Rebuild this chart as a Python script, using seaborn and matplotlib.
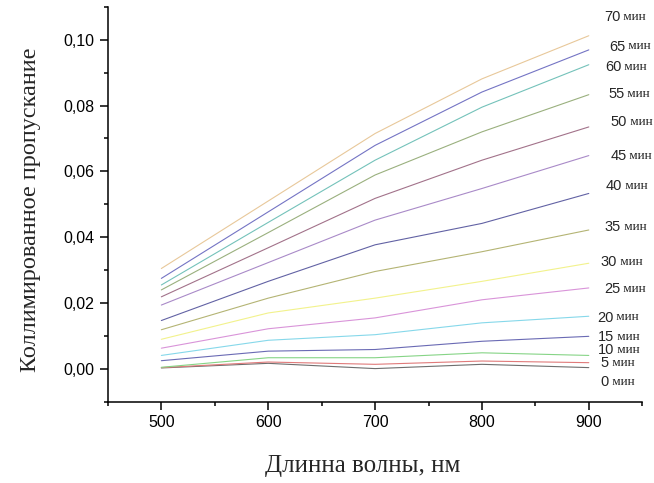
import matplotlib
matplotlib.use("Agg")
import matplotlib.pyplot as plt
import seaborn as sns
import pandas as pd
from matplotlib.ticker import MultipleLocator, FuncFormatter

# wavelength grid, nm
wavelengths = [500, 600, 700, 800, 900]

# exposure times, min
times = [0, 5, 10, 15, 20, 25, 30, 35, 40, 45, 50, 55, 60, 65, 70]

# collimated transmission per exposure time
transmission = [
    [0.0003, 0.0017, 0.0001, 0.0014, 0.0004],   # 0 min
    [0.0004, 0.0021, 0.0014, 0.0024, 0.0019],   # 5 min
    [0.0005, 0.0034, 0.0034, 0.0049, 0.0041],   # 10 min
    [0.0025, 0.0054, 0.0059, 0.0084, 0.0099],   # 15 min
    [0.0041, 0.0087, 0.0104, 0.0140, 0.0160],   # 20 min
    [0.0063, 0.0122, 0.0155, 0.0210, 0.0246],   # 25 min
    [0.0090, 0.0170, 0.0215, 0.0266, 0.0321],   # 30 min
    [0.0119, 0.0215, 0.0296, 0.0356, 0.0422],   # 35 min
    [0.0147, 0.0266, 0.0377, 0.0442, 0.0533],   # 40 min
    [0.0194, 0.0323, 0.0452, 0.0548, 0.0648],   # 45 min
    [0.0219, 0.0368, 0.0518, 0.0634, 0.0735],   # 50 min
    [0.0240, 0.0414, 0.0589, 0.0720, 0.0833],   # 55 min
    [0.0255, 0.0445, 0.0634, 0.0795, 0.0924],   # 60 min
    [0.0275, 0.0477, 0.0679, 0.0841, 0.0969],   # 65 min
    [0.0305, 0.0510, 0.0715, 0.0881, 0.1012],   # 70 min
]

# where each "NN мин" label sits (data coords)
label_x = [911, 911, 908.5, 908.5, 907.5, 914, 911, 915, 916, 920, 920, 918, 915, 919, 914]
label_y = [-0.0041, 0.0017, 0.0056, 0.0098, 0.0156, 0.0243, 0.0325, 0.0431,
           0.0555, 0.0646, 0.0749, 0.0834, 0.0918, 0.0979, 0.1070]

line_colors = ['#6e6e6e', '#e07a7a', '#86d486', '#6a6ab4', '#86d8ea',
               '#d994d9', '#f2f28c', '#b4b474', '#6262a4', '#a98ac8',
               '#a2728a', '#9ab07e', '#74c2ba', '#7474c4', '#e8c89a']

rows = []
for t, vals in zip(times, transmission):
    for wl, v in zip(wavelengths, vals):
        rows.append({'wl': wl, 'T': v, 'time': f'{t} мин'})
df = pd.DataFrame(rows)

sns.set_style("ticks")
plt.rcParams['font.family'] = ['Liberation Sans', 'DejaVu Sans']

fig = plt.figure(figsize=(6.54, 4.83), dpi=100)
ax = fig.add_axes([0.165, 0.168, 0.817, 0.818])

sns.lineplot(data=df, x='wl', y='T', hue='time',
             palette=dict(zip([f'{t} мин' for t in times], line_colors)),
             linewidth=0.8, legend=False, ax=ax)

for t, lx, ly in zip(times, label_x, label_y):
    num = ax.text(lx, ly, str(t), fontsize=10.5, va='center', ha='left',
                  family='Liberation Sans', clip_on=False)
    ax.annotate(' мин', xy=(1, 0.08), xycoords=num, va='bottom', ha='left',
                fontsize=9.5, family='Liberation Serif', annotation_clip=False)

ax.set_xlim(450, 950)
ax.set_ylim(-0.01, 0.11)
ax.xaxis.set_major_locator(MultipleLocator(100))
ax.xaxis.set_minor_locator(MultipleLocator(50))
ax.yaxis.set_major_locator(MultipleLocator(0.02))
ax.yaxis.set_minor_locator(MultipleLocator(0.01))
ax.yaxis.set_major_formatter(FuncFormatter(lambda v, p: f'{v:.2f}'.replace('.', ',').replace('-0,00', '0,00')))
ax.set_xticks([500, 600, 700, 800, 900])

ax.tick_params(which='major', length=6, width=1.1, labelsize=11.5, color='black', labelcolor='black')
ax.tick_params(which='minor', length=3, width=1.1, color='black')
for s in ['left', 'bottom']:
    ax.spines[s].set_linewidth(1.1)
    ax.spines[s].set_color('black')
sns.despine(ax=ax)

ax.set_xlabel('Длинна волны, нм', fontsize=18, family='Liberation Serif')
ax.set_ylabel('Коллимированное пропускание', fontsize=17.5, family='Liberation Serif')
ax.xaxis.set_label_coords(0.476, -0.135)
ax.yaxis.set_label_coords(-0.125, 0.486)

fig.savefig('out.png', dpi=100)
